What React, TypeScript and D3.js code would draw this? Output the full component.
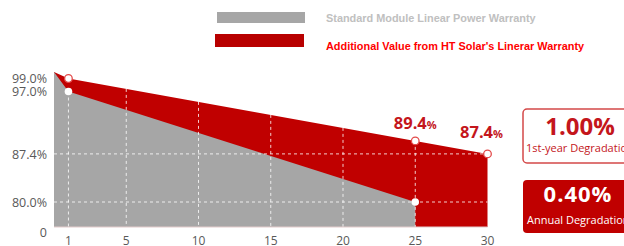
import React from "react";
import * as d3 from "d3";

// ---- data ----
const years = [0, 1, 25, 30];
const htWarranty = [100, 99, 89.4, 87.4];
const stdYears = [0, 1, 25];
const stdWarranty = [100, 97, 80];
const xTicks = [1, 5, 10, 15, 20, 25, 30];
const yTickValues = [99, 97, 87.4, 80];
const yTickLabels = ["99.0%", "97.0%", "87.4%", "80.0%"];
const axisFloorLabel = "0";
const hGrid = [87.4, 80];
const vGrid = [1, 5, 10, 15, 20, 25];
const legendLabels = [
  "Standard Module Linear Power Warranty",
  "Additional Value from HT Solar's Linerar Warranty",
];
const annotations = [
  { year: 25, value: 89.4, text: "89.4" },
  { year: 30, value: 87.4, text: "87.4" },
];
const boxValues = ["1.00%", "0.40%"];
const boxLabels = ["1st-year Degradation", "Annual Degradation"];

const RED = "#c00000";
const GRAY = "#a6a6a6";
const FONT = "'Open Sans', 'Noto Sans', sans-serif";

export default function App() {
  const W = 624;
  const H = 246;
  const x = d3.scaleLinear().domain([0, 30]).range([54, 487.5]);
  const y = d3.scaleLinear().domain([80, 100]).range([202, 72]);
  const floorVal = y.invert(227);

  const htPts: [number, number][] = years.map((yr, i) => [yr, htWarranty[i]]);
  const stdPts: [number, number][] = stdYears.map((yr, i) => [yr, stdWarranty[i]]);

  const area = d3
    .area<[number, number]>()
    .x((d) => x(d[0]))
    .y0(y(floorVal))
    .y1((d) => y(d[1]))
    .curve(d3.curveLinear);

  const htInterp = d3.scaleLinear().domain(years).range(htWarranty);
  const stdInterp = d3.scaleLinear().domain(stdYears).range(stdWarranty);

  const annOffsets = [12, 16];
  const annDx = [0, -6];

  return (
    <svg
      width={W}
      height={H}
      style={{ position: "fixed", left: 0, top: 0, background: "#fff" }}
      fontFamily={FONT}
    >
      {/* legend */}
      <rect x={217} y={12} width={88} height={11} fill={GRAY} />
      <rect x={215} y={34} width={89} height={13} fill="#b80000" />
      <text
        x={326}
        y={22}
        fontFamily="'Liberation Sans', Arial, sans-serif"
        fontWeight="bold"
        fontSize={10.9}
        fill="#c0c0c0"
      >
        {legendLabels[0]}
      </text>
      <text
        x={326}
        y={50}
        fontFamily="'Liberation Sans', Arial, sans-serif"
        fontWeight="bold"
        fontSize={10.9}
        fill="#ff0000"
      >
        {legendLabels[1]}
      </text>

      {/* areas */}
      <path d={area(htPts) || ""} fill={RED} />
      <path d={area(stdPts) || ""} fill={GRAY} />

      {/* grid */}
      {hGrid.map((v) => (
        <line
          key={"h" + v}
          x1={x(0)}
          x2={x(30)}
          y1={y(v)}
          y2={y(v)}
          stroke="#fff"
          strokeOpacity={0.8}
          strokeWidth={1}
          strokeDasharray="3,3"
        />
      ))}
      {vGrid.map((yr, i) => (
        <line
          key={"v" + yr}
          x1={x(yr)}
          x2={x(yr)}
          y1={i === 0 ? y(stdInterp(yr)) : y(htInterp(yr))}
          y2={y(floorVal)}
          stroke="#fff"
          strokeOpacity={0.8}
          strokeWidth={1}
          strokeDasharray="3,3"
        />
      ))}

      {/* baseline */}
      <line x1={x(0)} x2={x(30)} y1={227} y2={227} stroke="#e3cccc" strokeWidth={1.2} />

      {/* markers */}
      {htPts.slice(1).map((d) => (
        <circle
          key={"hm" + d[0]}
          cx={x(d[0])}
          cy={y(d[1])}
          r={3.8}
          fill="#fff"
          stroke="#e34a4a"
          strokeWidth={1.3}
        />
      ))}
      {stdPts.slice(1).map((d) => (
        <circle key={"sm" + d[0]} cx={x(d[0])} cy={y(d[1])} r={3.8} fill="#fff" />
      ))}

      {/* y labels */}
      {yTickValues.map((v, i) => (
        <text
          key={"yl" + v}
          x={47}
          y={y(v) + 1.5}
          textAnchor="end"
          dominantBaseline="middle"
          fontSize={12.5}
          fill="#595959"
        >
          {yTickLabels[i]}
        </text>
      ))}
      <text x={47} y={233.5} textAnchor="end" dominantBaseline="middle" fontSize={12.5} fill="#595959">
        {axisFloorLabel}
      </text>

      {/* x labels */}
      {xTicks.map((t) => (
        <text
          key={"xl" + t}
          x={x(t)}
          y={244.5}
          textAnchor="middle"
          fontSize={12}
          fill="#595959"
        >
          {t}
        </text>
      ))}

      {/* annotations */}
      {annotations.map((a, i) => (
        <text
          key={"an" + i}
          x={x(a.year) + annDx[i]}
          y={y(a.value) - annOffsets[i]}
          textAnchor="middle"
          fontWeight="bold"
          fontSize={16.5}
          fill="#c4161c"
        >
          {a.text}
          <tspan fontSize={11}>%</tspan>
        </text>
      ))}

      {/* boxes */}
      <rect x={523} y={109} width={110} height={54} rx={4} fill="#fff" stroke="#d44848" strokeWidth={1.5} />
      <text x={580} y={135} textAnchor="middle" fontWeight="bold" fontSize={24} fill="#c4161c">
        {boxValues[0]}
      </text>
      <text x={526} y={152} fontSize={11} fill="#c4161c">
        {boxLabels[0]}
      </text>
      <rect x={523} y={180} width={110} height={53} rx={4} fill={RED} />
      <text
        x={578}
        y={202}
        textAnchor="middle"
        fontWeight="bold"
        fontSize={22}
        letterSpacing={1}
        fill="#fff"
      >
        {boxValues[1]}
      </text>
      <text x={527} y={224} fontSize={11} fill="#fff">
        {boxLabels[1]}
      </text>
    </svg>
  );
}
